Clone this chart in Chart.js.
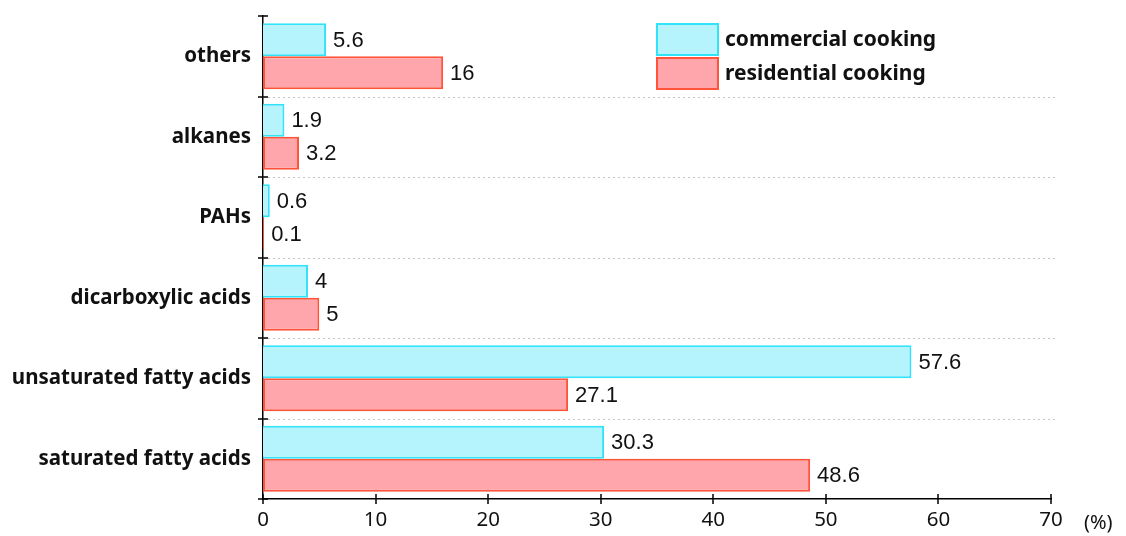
<!DOCTYPE html>
<html>
<head>
<meta charset="utf-8">
<script src="https://cdn.jsdelivr.net/npm/chart.js@4/dist/chart.umd.min.js"></script>
<style>
  html, body { margin: 0; padding: 0; background: #fff; }
</style>
</head>
<body>
<canvas id="chart" width="1126" height="536"></canvas>
<script>
const categories = ["others", "alkanes", "PAHs", "dicarboxylic acids", "unsaturated fatty acids", "saturated fatty acids"];
const commercial = [5.6, 1.9, 0.6, 4, 57.6, 30.3];
const residential = [16, 3.2, 0.1, 5, 27.1, 48.6];
const seriesNames = ["commercial cooking", "residential cooking"];
const xTicks = [0, 10, 20, 30, 40, 50, 60, 70];

// dotted separators, crossing tick marks, value labels, legend and unit
const decor = {
  id: "decor",
  beforeDatasetsDraw(chart) {
    const { ctx } = chart;
    const y = chart.scales.y, x = chart.scales.x;
    ctx.save();
    ctx.strokeStyle = "#c4c4c4";
    ctx.lineWidth = 1;
    ctx.setLineDash([2, 3]);
    for (let i = 0; i < categories.length - 1; i++) {
      const py = Math.round((y.getPixelForValue(i) + y.getPixelForValue(i + 1)) / 2) + 0.5;
      ctx.beginPath();
      ctx.moveTo(x.left, py);
      ctx.lineTo(x.right + 4, py);
      ctx.stroke();
    }
    ctx.restore();
  },
  afterDraw(chart) {
    const { ctx } = chart;
    const y = chart.scales.y, x = chart.scales.x;
    ctx.save();
    ctx.strokeStyle = "#000";
    ctx.lineWidth = 1.5;
    // y ticks at category boundaries
    const bounds = [y.top];
    for (let i = 0; i < categories.length - 1; i++) {
      bounds.push((y.getPixelForValue(i) + y.getPixelForValue(i + 1)) / 2);
    }
    bounds.push(y.bottom);
    bounds.forEach(b => {
      ctx.beginPath();
      ctx.moveTo(x.left - 5, Math.round(b));
      ctx.lineTo(x.left + 5, Math.round(b));
      ctx.stroke();
    });
    // x ticks
    xTicks.forEach(v => {
      const px = Math.round(x.getPixelForValue(v));
      ctx.beginPath();
      ctx.moveTo(px, y.bottom - 5);
      ctx.lineTo(px, y.bottom + 5);
      ctx.stroke();
    });

    // value labels
    ctx.fillStyle = "#111";
    ctx.font = "22px 'Liberation Sans'";
    ctx.textBaseline = "middle";
    ctx.textAlign = "left";
    chart.data.datasets.forEach((ds, di) => {
      const meta = chart.getDatasetMeta(di);
      meta.data.forEach((bar, i) => {
        ctx.fillText(String(ds.data[i]), bar.x + 7, bar.y + 1);
      });
    });

    // legend
    const lx = 657, ly = 24, bw = 61, bh = 31;
    chart.data.datasets.forEach((ds, di) => {
      const top = ly + di * (bh + 3);
      ctx.fillStyle = ds.backgroundColor;
      ctx.fillRect(lx, top, bw, bh);
      ctx.strokeStyle = ds.borderColor;
      ctx.lineWidth = 2;
      ctx.strokeRect(lx, top, bw, bh);
      ctx.fillStyle = "#111";
      ctx.font = "bold 21px 'Noto Sans'";
      ctx.fillText(seriesNames[di], lx + bw + 7, top + bh / 2 + 1);
    });

    // unit
    ctx.font = "20px 'Noto Sans'";
    ctx.fillStyle = "#111";
    ctx.fillText("(%)", x.right + 33, y.bottom + 24);
    ctx.restore();
  }
};

new Chart(document.getElementById("chart"), {
  type: "bar",
  data: {
    labels: categories,
    datasets: [
      {
        label: seriesNames[0],
        data: commercial,
        backgroundColor: "rgb(181, 244, 252)",
        borderColor: "rgb(48, 226, 250)",
        borderWidth: 2,
        borderSkipped: "left",
      },
      {
        label: seriesNames[1],
        data: residential,
        backgroundColor: "rgb(255, 166, 172)",
        borderColor: "rgb(255, 84, 58)",
        borderWidth: 2,
        borderSkipped: false,
      },
    ],
  },
  options: {
    indexAxis: "y",
    responsive: false,
    animation: false,
    devicePixelRatio: 1,
    layout: { padding: { top: 16, right: 75, left: 0, bottom: 0 } },
    categoryPercentage: 0.82,
    barPercentage: 1,
    plugins: { legend: { display: false }, tooltip: { enabled: false } },
    scales: {
      x: {
        min: 0,
        max: 70,
        ticks: { stepSize: 10, color: "#111", font: { family: "Noto Sans", size: 20.5 }, padding: 9 },
        grid: { display: false, drawTicks: false },
        border: { color: "#000", width: 1.5 },
        afterFit(s) { s.height = 37; s.paddingLeft = 0; s.paddingRight = 0; },
      },
      y: {
        ticks: { color: "#111", font: { family: "Noto Sans", size: 20.5, weight: "bold" }, padding: 12 },
        grid: { display: false, drawTicks: false },
        border: { color: "#000", width: 1.5 },
        afterFit(s) { s.width = 263; s.paddingTop = 0; s.paddingBottom = 0; },
      },
    },
  },
  plugins: [decor],
});
</script>
</body>
</html>
